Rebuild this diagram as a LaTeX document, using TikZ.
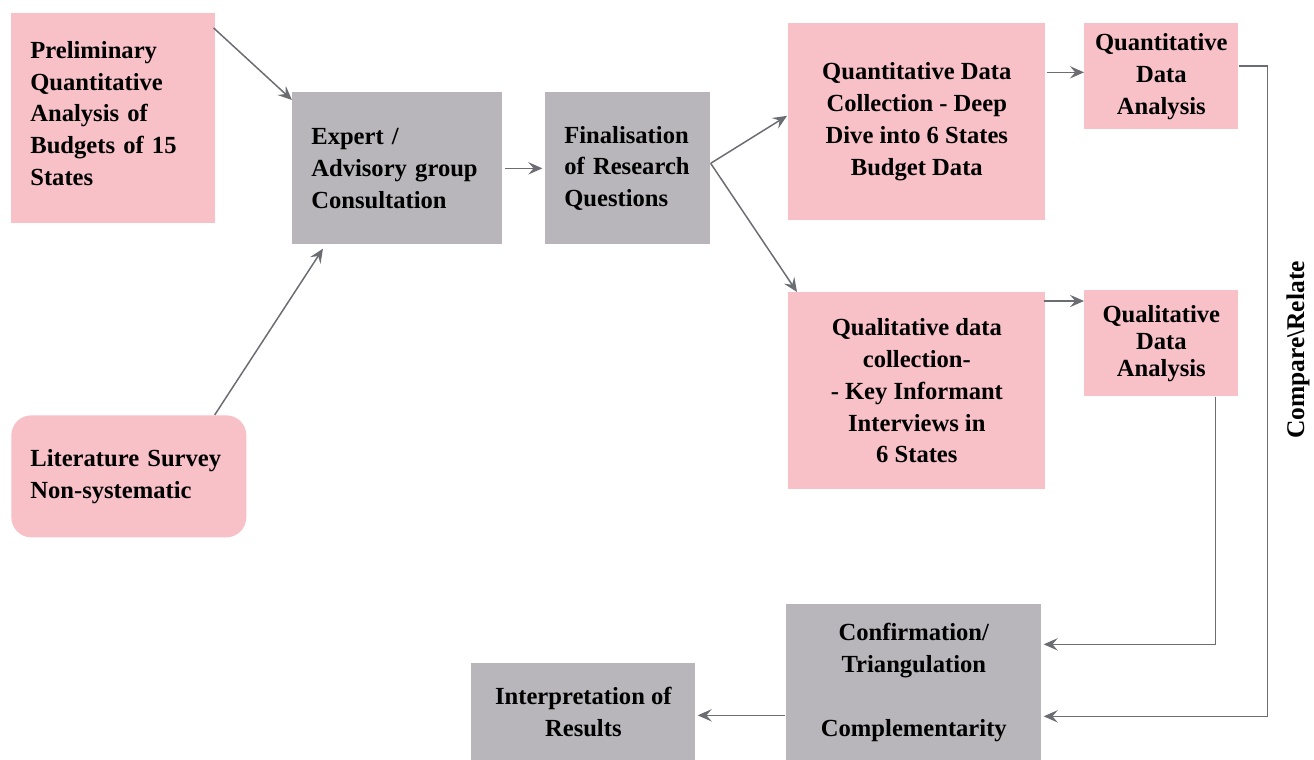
\documentclass[tikz,border=0pt]{standalone}
\usepackage{fontspec}
\setmainfont{Liberation Serif}
\usetikzlibrary{positioning, calc, arrows.meta}
\definecolor{boxpink}{RGB}{248,192,199}
\definecolor{boxgray}{RGB}{184,182,186}
\definecolor{linkgray}{RGB}{108,109,114}

\tikzset{
  pinkbox/.style={fill=boxpink, anchor=north west, inner sep=0pt, align=center},
  graybox/.style={fill=boxgray, anchor=north west, inner sep=0pt, align=center},
  leftbox/.style={align=left, inner xsep=0.38cm, inner ysep=0pt},
  link/.style={draw=linkgray, line width=0.85pt, -{Stealth[length=8pt, width=7pt, inset=3pt]}},
}

\begin{document}
\begin{tikzpicture}[x=0.02cm, y=-0.02cm, font=\fontsize{14pt}{18.1pt}\selectfont\bfseries]
  \useasboundingbox (0,0) rectangle (1314,760);

  % LEFT COLUMN: inputs
  \node[pinkbox, leftbox, text width=3.32cm, minimum height=4.2cm] (prelim) at (11,13)
    {Preliminary\\Quantitative\\Analysis~of\\Budgets~of~15\\States\\[-12.5pt]\mbox{}};
  \node[pinkbox, leftbox, text width=3.94cm, minimum height=2.44cm, rounded corners=0.4cm] (lit) at (11,415)
    {Literature~Survey\\Non-systematic};

  % MIDDLE: consultation and questions
  \node[graybox, leftbox, text width=3.44cm, minimum height=3.04cm] (expert) at (292,92)
    {Expert~/\\Advisory~group\\Consultation};
  \node[graybox, leftbox, text width=2.54cm, minimum height=3.04cm] (final) at (545,92)
    {Finalisation\\of~Research\\Questions};

  % RIGHT: data collection and analysis
  \node[pinkbox, minimum width=5.14cm, minimum height=3.94cm] (quantcol) at (788,23)
    {Quantitative Data\\Collection - Deep\\Dive into 6 States\\Budget Data};
  \node[pinkbox, minimum width=3.08cm, minimum height=2.12cm] (quantan) at (1084,23)
    {Quantitative\\Data\\Analysis};
  \node[pinkbox, minimum width=5.14cm, minimum height=3.94cm] (qualcol) at (788,292)
    {Qualitative data\\collection-\\- Key Informant\\Interviews in\\6 States};
  \node[pinkbox, minimum width=3.08cm, minimum height=2.12cm,
        font=\fontsize{14pt}{15.3pt}\selectfont\bfseries] (qualan) at (1084,290)
    {Qualitative\\Data\\Analysis};

  % BOTTOM: synthesis
  \node[graybox, minimum width=5.1cm, minimum height=3.12cm] (confirm) at (786,604)
    {Confirmation/\\Triangulation\\\mbox{}\\Complementarity};
  \node[graybox, minimum width=4.48cm, minimum height=1.94cm] (interp) at (471,663)
    {Interpretation of\\Results};

  \node[rotate=90, font=\fontsize{14.5pt}{18pt}\selectfont\bfseries] (cmprel) at (1298,350)
    {Compare\textbackslash Relate};

  % connectors
  \draw[link] ($(prelim.north east)+(-2,15)$) -- ($(expert.north west)+(0,8)$);
  \draw[link] ($(lit.north east)+(-32,0)$) -- ($(expert.south west)+(31,4)$);
  \draw[link] ([xshift=1.5pt]expert.east) -- ([xshift=-1.5pt]final.west);

  \coordinate (fork) at ($(final.east)+(0,-5)$);
  \draw[link] (fork) -- ($(quantcol.west)+(-1,-6)$);
  \draw[link] (fork) -- ($(qualcol.north west)+(9,0)$);

  \coordinate (qnin) at ($(quantan.west)+(0,-4)$);
  \coordinate (qlin) at ($(qualan.north west)+(0,11)$);
  \draw[link] ($(qnin -| quantcol.east)+(1,0)$) -- (qnin);
  \draw[link] ($(qlin -| qualcol.east)+(-2,0)$) -- (qlin);

  % back to confirmation
  \draw[link] ($(quantan.north east)+(0,43)$) -- ++(29,0) |- ($(confirm.east)+(2,34)$);
  \draw[link] ($(qualan.south east)+(-23,0)$) |- ($(confirm.east)+(2,-38)$);

  \coordinate (ipin) at ($(interp.east)+(2,3.5)$);
  \draw[link] ($(ipin -| confirm.west)+(-1,0)$) -- (ipin);
\end{tikzpicture}
\end{document}
